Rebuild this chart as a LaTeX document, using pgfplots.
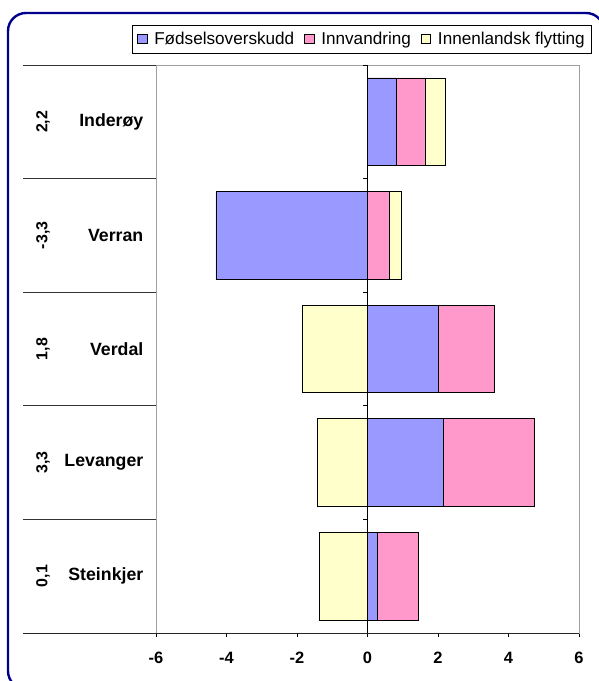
\documentclass[border=0pt]{standalone}
\usepackage{fontspec}
\setmainfont{Liberation Sans}
\usepackage{pgfplots}
\usepackage{pgfplotstable}
\pgfplotsset{compat=1.18}
\definecolor{fodblue}{HTML}{9999FF}
\definecolor{innpink}{HTML}{FF99CC}
\definecolor{flytyellow}{HTML}{FFFFCC}
\definecolor{framenavy}{RGB}{0,0,140}

% components per kommune (idx 0 = bottom)
\pgfplotstableread{
idx fod inn flyt
0 0.28 1.16 -1.37
1 2.14 2.60 -1.43
2 2.00 1.61 -1.86
3 -4.30 0.62 0.33
4 0.81 0.84 0.56
}\datatable

\begin{document}
\begin{tikzpicture}
\useasboundingbox (0bp,0bp) rectangle (599bp,681bp);
\draw[framenavy, line width=2.4bp, rounded corners=18bp] (8bp,-8bp) rectangle (604bp,668bp);

\begin{axis}[
  at={(156bp,48bp)}, anchor=south west,
  scale only axis, width=423bp, height=568bp,
  xmin=-6, xmax=6, ymin=-0.5, ymax=4.5,
  xbar, bar width=0.772, bar shift=0pt,
  xtick={-6,-4,...,6}, ytick=\empty,
  xtick pos=bottom, tick align=outside,
  major tick length=4bp,
  every tick/.style={black, line width=0.6bp},
  axis line style={draw=gray!75, line width=0.8bp},
  /pgf/number format/assume math mode=true,
  xticklabel style={font=\fontsize{16.5}{18}\selectfont\bfseries, yshift=-12bp},
  clip=false,
  legend columns=3,
  legend style={at={(1.0307,1.0704)}, anchor=north east, draw=black,
    line width=0.6bp, inner xsep=5bp, inner ysep=5bp,
    font=\fontsize{17.2}{19}\selectfont,
    /tikz/every odd column/.append style={column sep=5bp},
    /tikz/every even column/.append style={column sep=8bp}},
  legend image code/.code={\draw[#1, draw=black, line width=0.6bp] (0bp,-4.5bp) rectangle (9.5bp,4.5bp);},
]
\addlegendimage{fill=fodblue}
\addlegendentry{Fødselsoverskudd}
\addlegendimage{fill=innpink}
\addlegendentry{Innvandring}
\addlegendimage{fill=flytyellow}
\addlegendentry{Innenlandsk flytting}

\addplot[forget plot, fill=flytyellow, draw=black, line width=0.7bp]
  table[y=idx, x expr={ifthenelse(\thisrow{flyt}>0, max(\thisrow{fod},0)+\thisrow{inn}+\thisrow{flyt}, \thisrow{flyt})}] {\datatable};
\addplot[forget plot, fill=innpink, draw=black, line width=0.7bp]
  table[y=idx, x expr={max(\thisrow{fod},0)+\thisrow{inn}}] {\datatable};
\addplot[forget plot, fill=fodblue, draw=black, line width=0.7bp]
  table[y=idx, x=fod] {\datatable};
\end{axis}

\begin{scope}[x=1bp, y=1bp]
% zero line with category ticks, separators in the label column
\draw[black, line width=0.8bp] (367.5,48) -- (367.5,616);
\foreach \k in {0,...,5}{
  \draw[black, line width=0.7bp] (367.5,{48+\k*113.6}) -- ++(-5,0);
  \draw[black!80, line width=0.8bp] (156,{48+\k*113.6}) -- (23,{48+\k*113.6});
}
\draw[black!85, line width=0.9bp] (23,48) -- (579,48);

% category names and totals
\foreach \k/\nm/\tot in {0/Steinkjer/{0,1}, 1/Levanger/{3,3}, 2/Verdal/{1,8}, 3/Verran/{-3,3}, 4/Inderøy/{2,2}}{
  \node[anchor=east, inner sep=0pt, font=\fontsize{17.8}{20}\selectfont\bfseries]
    at (143.5,{48+(\k+0.5)*113.6}) {\nm};
  \node[rotate=90, inner sep=0pt, font=\fontsize{16}{18}\selectfont\bfseries]
    at (43,{48+(\k+0.5)*113.6}) {\tot};
}
\end{scope}
\end{tikzpicture}
\end{document}
